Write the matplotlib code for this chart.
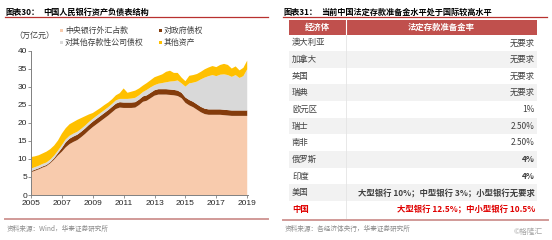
import matplotlib
matplotlib.use("Agg")
import matplotlib.pyplot as plt
from matplotlib.patches import Rectangle

plt.rcParams['font.family'] = ['Noto Sans CJK SC', 'DejaVu Sans']

# 季度数据 (万亿元)
years = [2005.00, 2005.25, 2005.50, 2005.75, 2006.00, 2006.25, 2006.50, 2006.75,
         2007.00, 2007.25, 2007.50, 2007.75, 2008.00, 2008.25, 2008.50, 2008.75,
         2009.00, 2009.25, 2009.50, 2009.75, 2010.00, 2010.25, 2010.50, 2010.75,
         2011.00, 2011.25, 2011.50, 2011.75, 2012.00, 2012.25, 2012.50, 2012.75,
         2013.00, 2013.25, 2013.50, 2013.75, 2014.00, 2014.25, 2014.50, 2014.75,
         2015.00, 2015.25, 2015.50, 2015.75, 2016.00, 2016.25, 2016.50, 2016.75,
         2017.00, 2017.25, 2017.50, 2017.75, 2018.00, 2018.25, 2018.50, 2018.75,
         2019.00]
fx_claims = [6.3, 6.7, 7.1, 7.6, 8.0, 8.8, 9.8, 11.0,
             12.0, 13.2, 14.1, 14.7, 15.2, 16.0, 16.9, 17.9,
             18.8, 19.6, 20.4, 21.2, 22.0, 22.9, 23.8, 24.2,
             24.1, 24.1, 24.1, 24.2, 24.9, 25.8, 26.1, 26.8,
             27.5, 27.8, 27.8, 27.8, 27.7, 27.6, 27.4, 26.8,
             25.5, 24.8, 24.3, 23.6, 22.9, 22.4, 22.2, 22.2,
             22.2, 22.2, 22.1, 22.0, 21.9, 21.9, 21.9, 21.9,
             21.9]
gov_claims = [0.3, 0.3, 0.3, 0.3, 0.3, 0.3, 0.4, 0.6,
              1.0, 1.4, 1.5, 1.5, 1.5, 1.5, 1.5, 1.5,
              1.5, 1.5, 1.5, 1.5, 1.5, 1.5, 1.5, 1.5,
              1.5, 1.5, 1.5, 1.5, 1.5, 1.5, 1.5, 1.5,
              1.5, 1.5, 1.5, 1.5, 1.5, 1.5, 1.5, 1.5,
              1.5, 1.5, 1.5, 1.5, 1.5, 1.5, 1.5, 1.5,
              1.5, 1.5, 1.5, 1.5, 1.5, 1.5, 1.5, 1.5,
              1.5]
odc_claims = [0.7, 0.7, 0.7, 0.7, 0.7, 0.7, 0.7, 0.7,
              0.8, 0.8, 0.8, 0.8, 0.8, 0.8, 0.8, 0.8,
              0.8, 0.8, 0.8, 0.8, 0.8, 0.8, 0.9, 0.9,
              1.0, 1.0, 1.1, 1.2, 1.2, 1.2, 1.5, 1.5,
              1.4, 1.5, 1.7, 1.9, 2.2, 2.4, 2.8, 2.6,
              3.0, 4.6, 5.3, 6.3, 7.6, 8.6, 9.2, 9.5,
              9.2, 9.6, 9.8, 9.7, 9.3, 9.8, 9.0, 9.5,
              11.4]
other_assets = [3.2, 3.0, 2.9, 2.9, 3.0, 2.9, 2.8, 2.8,
                3.2, 3.1, 3.2, 3.2, 3.3, 3.0, 2.6, 2.1,
                1.6, 1.5, 1.4, 1.4, 1.3, 1.3, 1.4, 1.6,
                2.9, 1.7, 1.9, 2.0, 1.9, 1.8, 1.9, 2.0,
                2.2, 2.2, 2.4, 2.9, 3.0, 2.3, 2.1, 1.6,
                1.5, 2.1, 2.1, 2.1, 2.1, 2.3, 2.4, 2.5,
                2.5, 2.7, 2.9, 2.8, 2.3, 2.4, 2.1, 2.3,
                2.4]

x_ticks = [2005, 2007, 2009, 2011, 2013, 2015, 2017, 2019]
y_ticks = [0, 5, 10, 15, 20, 25, 30, 35, 40]

series_labels = ["中央银行外汇占款", "对政府债权", "对其他存款性公司债权", "其他资产"]
series_colors = ["#F8CBAD", "#843C0C", "#D9D9D9", "#FFC000"]

# 右侧表格
economies = ["澳大利亚", "加拿大", "英国", "瑞典", "欧元区", "瑞士",
             "南非", "俄罗斯", "印度", "美国", "中国"]
rrr_levels = ["无要求", "无要求", "无要求", "无要求", "1%", "2.50%",
              "2.50%", "4%", "4%",
              "大型银行 10%；中型银行 3%；小型银行无要求",
              "大型银行 12.5%；中小型银行 10.5%"]

W, H = 552, 240
fig = plt.figure(figsize=(W / 100, H / 100), dpi=100)

# 像素坐标的背景层
bg = fig.add_axes([0, 0, 1, 1])
bg.set_xlim(0, W)
bg.set_ylim(H, 0)
bg.axis("off")

title_red = "#B8312F"
foot_red = "#D19A98"
txt = "#404040"

# ---- 左图: 标题 / 图例 / 来源 ----
bg.text(5, 12.3, "图表30：", fontsize=5.9, weight="bold", va="center")
bg.text(43, 12.3, "中国人民银行资产负债表结构", fontsize=5.9, weight="bold", va="center")
bg.plot([5, 268], [17, 17], color=title_red, lw=0.9)

bg.text(14, 36.5, "（万亿元）", fontsize=5.8, color=txt, va="center")
legend_pos = [(60, 30.7), (159, 30.7), (60, 42.3), (159, 42.3)]
for (lx, ly), lab, col in zip(legend_pos, series_labels, series_colors):
    bg.add_patch(Rectangle((lx, ly - 1.5), 3, 3, color=col, lw=0))
    bg.text(lx + 5, ly, lab, fontsize=5.7, color=txt, va="center")

bg.plot([5, 268], [219.3, 219.3], color=foot_red, lw=1.4)
bg.text(7, 228.5, "资料来源：Wind，华泰证券研究所", fontsize=4.8, color="#8C8C8C", va="center")

# ---- 右侧: 表格 ----
bg.text(283, 12.3, "图表31：", fontsize=5.9, weight="bold", va="center")
bg.text(321, 12.3, "当前中国法定存款准备金水平处于国际较高水平", fontsize=5.9,
        weight="bold", va="center")
bg.plot([283, 547], [17.3, 17.3], color=title_red, lw=0.9)

tx0, tx1, tdiv = 289, 537, 346
head_top, head_bot = 20, 34.5
row_h = 16.65
bg.add_patch(Rectangle((tx0, head_top), tx1 - tx0, head_bot - head_top,
                       color="#C0504D", lw=0))
bg.text((tx0 + tdiv) / 2, (head_top + head_bot) / 2, "经济体", fontsize=6,
        color="white", weight="bold", ha="center", va="center")
bg.text((tdiv + tx1) / 2, (head_top + head_bot) / 2, "法定存款准备金率", fontsize=6,
        color="white", weight="bold", ha="center", va="center")
bg.plot([tdiv, tdiv], [head_top, head_bot], color="white", lw=0.8)

for i, (eco, lvl) in enumerate(zip(economies, rrr_levels)):
    top = head_bot + i * row_h
    if i % 2 == 1:
        bg.add_patch(Rectangle((tx0, top), tx1 - tx0, row_h, color="#F2F2F2", lw=0))
    yc = top + row_h / 2
    if eco == "中国":
        col, w_name, w_val = "#E00000", "bold", "bold"
    else:
        col, w_name = txt, "normal"
        w_val = "bold" if eco in ("俄罗斯", "印度", "美国") else "normal"
    bg.text(292, yc, eco, fontsize=6, color=col, weight=w_name, va="center")
    bg.text(535, yc, lvl, fontsize=6, color=col, weight=w_val, ha="right", va="center")
bg.plot([tdiv, tdiv], [head_bot, head_bot + len(economies) * row_h],
        color="#E4E4E4", lw=0.6)

bg.plot([283, 548], [219.5, 219.5], color=foot_red, lw=1.4)
bg.text(285, 228.5, "资料来源：各经济体央行，华泰证券研究所", fontsize=4.8,
        color="#8C8C8C", va="center")
bg.text(543, 231.5, "©格隆汇", fontsize=5.5, color="#A6A6A6", ha="right", va="center")

# ---- 左图: 堆积面积 ----
ax_l, ax_r, ax_b, ax_t = 31, 248, 195, 50.5
ax = fig.add_axes([ax_l / W, 1 - ax_b / H, (ax_r - ax_l) / W, (ax_b - ax_t) / H])
ax.set_facecolor("none")
ax.stackplot(years, fx_claims, gov_claims, odc_claims, other_assets,
             colors=series_colors, linewidth=0)
ax.set_xlim(2005, 2019.05)
ax.set_ylim(0, 40)
ax.set_xticks(x_ticks)
ax.set_yticks(y_ticks)
ax.set_xticklabels([str(t) for t in x_ticks], fontfamily="Liberation Sans")
ax.set_yticklabels([str(t) for t in y_ticks], fontfamily="Liberation Sans")
for s in ("top", "right"):
    ax.spines[s].set_visible(False)
for s in ("left", "bottom"):
    ax.spines[s].set_color("#808080")
    ax.spines[s].set_linewidth(0.7)
ax.tick_params(axis="x", length=2, width=0.6, color="#808080", pad=1.5,
               labelsize=6, labelcolor="#262626")
ax.tick_params(axis="y", length=2, width=0.6, color="#808080", pad=0.8,
               labelsize=6, labelcolor="#262626")

fig.savefig("out.png", dpi=100)
